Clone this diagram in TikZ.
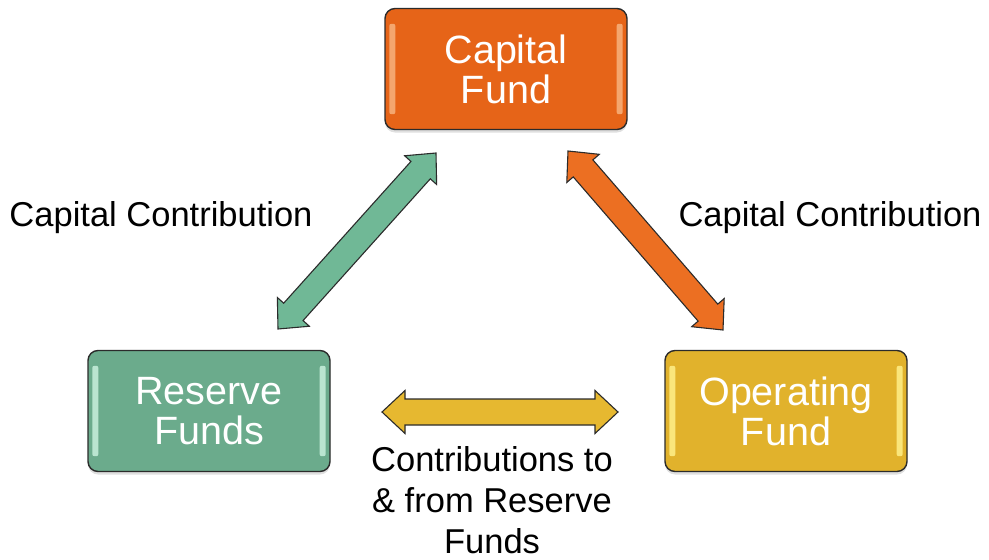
\documentclass[tikz,border=0pt]{standalone}
\usepackage{fontspec}
\setmainfont{Liberation Sans}
\usetikzlibrary{calc,shadows}
\definecolor{cOrange}{HTML}{E66418}
\definecolor{cOrangeLt}{HTML}{F7B27E}
\definecolor{cGreen}{HTML}{6BAB8C}
\definecolor{cGreenLt}{HTML}{C9F0DD}
\definecolor{cYellow}{HTML}{E1B22C}
\definecolor{cYellowLt}{HTML}{FFF08A}
\definecolor{aOrange}{HTML}{EC6F22}
\definecolor{aGreen}{HTML}{70B896}
\definecolor{aYellow}{HTML}{E6B830}
\definecolor{cEdge}{HTML}{2B2B2B}
\tikzset{
  fundbox/.style={draw=cEdge, line width=1.4pt, rounded corners=10pt,
    minimum width=242pt, minimum height=121pt, text=white, align=center,
    font=\fontsize{39.5}{40}\selectfont,
    drop shadow={shadow xshift=0pt, shadow yshift=-3pt, opacity=0.25}},
  lbl/.style={text=black, align=center, font=\fontsize{34.5}{41}\selectfont},
  arrowfill/.style={draw=cEdge, line width=1.1pt, line join=miter}
}
% block arrow between two named coordinates: #1 start tip, #2 end tip, #3 colour
\newcommand\blockarr[3]{%
  \coordinate (#1h) at ($(#1)!23pt!(#2)$);
  \coordinate (#2h) at ($(#2)!23pt!(#1)$);
  \filldraw[arrowfill, fill=#3]
    (#1) -- ($(#1h)!21.5pt!90:(#2)$) -- ($(#1h)!13pt!90:(#2)$)
    -- ($(#2h)!13pt!-90:(#1)$) -- ($(#2h)!21.5pt!-90:(#1)$) -- (#2)
    -- ($(#2h)!21.5pt!90:(#1)$) -- ($(#2h)!13pt!90:(#1)$)
    -- ($(#1h)!13pt!-90:(#2)$) -- ($(#1h)!21.5pt!-90:(#2)$) -- cycle;
}
\begin{document}
\begin{tikzpicture}[x=1pt,y=-1pt]
\useasboundingbox (0,0) rectangle (989,560);

% boxes
\node[fundbox, fill=cOrange] (cap) at (506,69) {Capital\\Fund};
\node[fundbox, fill=cGreen] (res) at (209,411) {Reserve\\Funds};
\node[fundbox, fill=cYellow] (op) at (786,411) {Operating\\Fund};

% highlight strips
\foreach \b/\c in {cap/cOrangeLt, res/cGreenLt, op/cYellowLt}{
  \fill[\c, opacity=0.85, rounded corners=2pt]
    ($(\b.north west)+(5,16)$) rectangle ($(\b.south west)+(11,-16)$);
  \fill[\c, opacity=0.85, rounded corners=2pt]
    ($(\b.north east)+(-11,16)$) rectangle ($(\b.south east)+(-5,-16)$);
}

% arrows
\coordinate (g1) at (278,329);
\coordinate (g2) at (436,153);
\coordinate (o1) at (568,151);
\coordinate (o2) at (723,330);
\coordinate (y1) at (382,412);
\coordinate (y2) at (618,412);
\blockarr{g1}{g2}{aGreen}
\blockarr{o1}{o2}{aOrange}
\blockarr{y1}{y2}{aYellow}

% labels
\node[lbl] (l1) at (161,218) {Capital Contribution};
\node[lbl] (l2) at (830,218) {Capital Contribution};
\node[lbl] (l3) at (492,500) {Contributions to\\\& from Reserve\\Funds};
\end{tikzpicture}
\end{document}
